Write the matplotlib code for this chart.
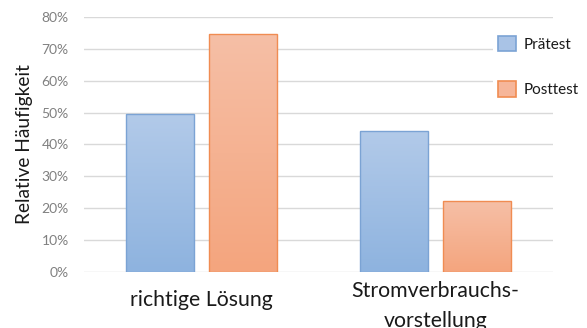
import numpy as np
import matplotlib
matplotlib.use("Agg")
import matplotlib.pyplot as plt
from matplotlib.patches import Patch
from matplotlib.ticker import PercentFormatter
from matplotlib.transforms import blended_transform_factory

categories = ["richtige Lösung", "Stromverbrauchs-\nvorstellung"]
series_names = ["Prätest", "Posttest"]
pretest = [0.494, 0.442]
posttest = [0.746, 0.223]
yticks = [0.0, 0.1, 0.2, 0.3, 0.4, 0.5, 0.6, 0.7, 0.8]

plt.rcParams["font.family"] = ["Lato", "DejaVu Sans"]

fig = plt.figure(figsize=(5.87, 3.28), dpi=100)
ax = fig.add_axes([84 / 587, (328 - 271.7) / 328, (553 - 84) / 587, (271.7 - 17) / 328])

x = np.arange(len(categories))
width = 0.288
offset = 0.177

styles = [
    dict(top="#B2CAE9", bottom="#8EB3DF", edge="#7BA3D4", key="#A9C3E6"),
    dict(top="#F6BFA6", bottom="#F4A57E", edge="#F08C52", key="#F6B69A"),
]

ax.set_xlim(-0.5, 1.5)
ax.set_ylim(0, 0.8)

for vals, sgn, st in zip([pretest, posttest], [-1, 1], styles):
    bars = ax.bar(x + sgn * offset, vals, width, color="none",
                  edgecolor=st["edge"], linewidth=1.0, zorder=3)
    for b in bars:
        x0, y0 = b.get_x(), b.get_y()
        w, h = b.get_width(), b.get_height()
        c1 = np.array(matplotlib.colors.to_rgb(st["top"]))
        c2 = np.array(matplotlib.colors.to_rgb(st["bottom"]))
        t = np.linspace(0, 1, 64)[:, None]
        grad = (c1 * (1 - t) + c2 * t)[:, None, :]
        im = ax.imshow(grad, extent=[x0, x0 + w, y0, y0 + h], origin="upper",
                       aspect="auto", zorder=2, interpolation="bilinear")
        im.set_clip_path(b)

ax.set_xlim(-0.5, 1.5)
ax.set_ylim(0, 0.8)

ax.set_yticks(yticks)
ax.yaxis.set_major_formatter(PercentFormatter(1.0, decimals=0))
ax.grid(axis="y", color="#D9D9D9", linewidth=1.0, zorder=0)
ax.set_axisbelow(True)
for s in ax.spines.values():
    s.set_visible(False)
ax.tick_params(axis="both", length=0)
ax.tick_params(axis="y", labelsize=10, labelcolor="#808080", pad=11)

# category labels: single-line label centred, wrapped label hangs slightly lower
ax.set_xticks(x)
ax.set_xticklabels([])
trans = blended_transform_factory(ax.transData, fig.transFigure)
label_centers_px = [300, 306]
for xi, lab, cy in zip(x, categories, label_centers_px):
    ax.text(xi, 1 - cy / 328, lab, transform=trans, ha="center", va="center",
            fontsize=15.3, color="#1a1a1a", linespacing=1.6, clip_on=False)

ax.set_ylabel("Relative Häufigkeit", fontsize=13.8, color="#1a1a1a", labelpad=6)

handles = [Patch(facecolor=st["key"], edgecolor=st["edge"], linewidth=1.2)
           for st in styles]
leg = ax.legend(handles, series_names, loc="upper left",
                bbox_to_anchor=(493 / 587, 1 - 31 / 328),
                bbox_transform=fig.transFigure, frameon=True,
                fontsize=11, handlelength=1.2, handleheight=1.2,
                handletextpad=0.5, labelspacing=1.95, borderpad=0.3,
                borderaxespad=0)
for txt in leg.get_texts():
    txt.set_color("#1a1a1a")
leg.get_frame().set_facecolor("white")
leg.get_frame().set_edgecolor("none")
leg.get_frame().set_alpha(1.0)
leg.set_zorder(5)

fig.savefig("out.png", dpi=100)
